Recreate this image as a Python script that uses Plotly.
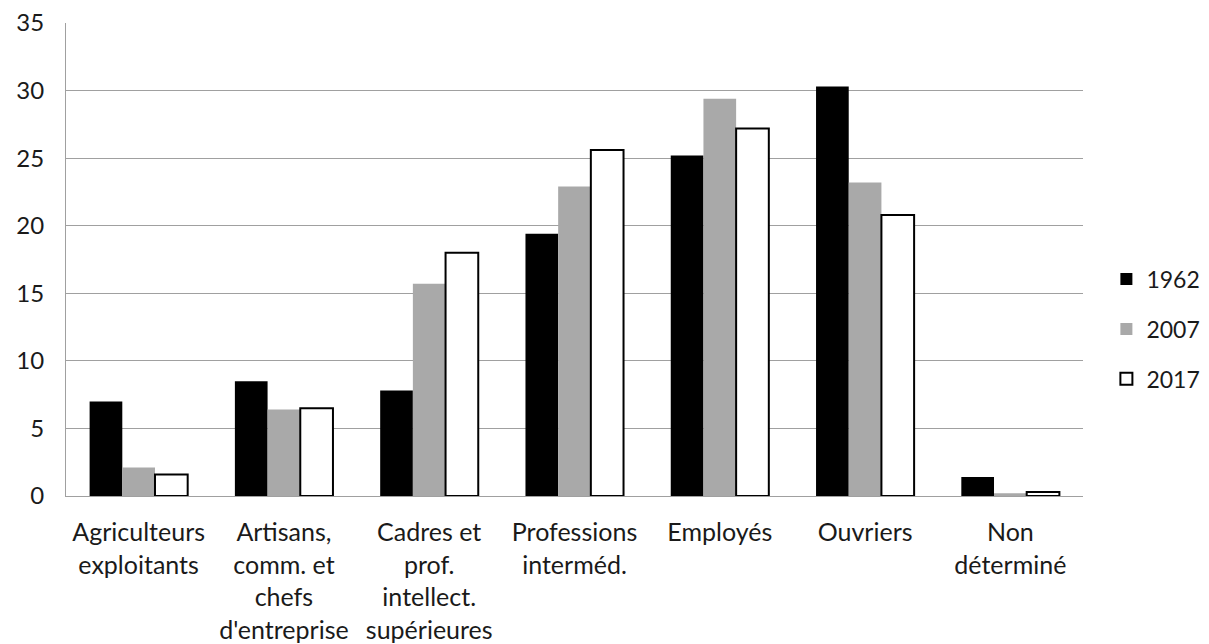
import plotly.graph_objects as go

categories = ["Agriculteurs<br>exploitants", "Artisans,<br>comm. et<br>chefs<br>d'entreprise",
              "Cadres et<br>prof.<br>intellect.<br>supérieures", "Professions<br>interméd.",
              "Employés", "Ouvriers", "Non<br>déterminé"]
v1962 = [7.0, 8.5, 7.8, 19.4, 25.2, 30.3, 1.4]
v2007 = [2.1, 6.4, 15.7, 22.9, 29.4, 23.2, 0.2]
v2017 = [1.6, 6.5, 18.0, 25.6, 27.2, 20.8, 0.3]

fig = go.Figure()
fig.add_trace(go.Bar(x=categories, y=v1962, name="1962", legendgroup="a",
                     marker=dict(color="#000000", line=dict(width=0))))
fig.add_trace(go.Bar(x=categories, y=v2007, name="2007", legendgroup="b",
                     marker=dict(color="#a9a9a9", line=dict(width=0))))
fig.add_trace(go.Bar(x=categories, y=v2017, name="2017", legendgroup="c",
                     marker=dict(color="#ffffff", line=dict(width=2, color="#000000"))))

fig.update_layout(
    width=1209, height=644,
    paper_bgcolor="white", plot_bgcolor="white",
    margin=dict(l=58, r=121, t=15, b=156),
    barmode="group", bargap=0.325, bargroupgap=0,
    font=dict(family="Lato", size=25, color="#1a1a1a"),
    legend=dict(x=1.023, xanchor="left", y=0.353, yanchor="middle",
                traceorder="grouped", tracegroupgap=17,
                font=dict(size=23), itemwidth=30),
    xaxis=dict(showline=True, linecolor="#a0a0a0", linewidth=1, ticks="",
               tickfont=dict(size=25), automargin=False, ticklabelstandoff=14),
    yaxis=dict(range=[0, 35], dtick=5, showgrid=True, gridcolor="#a0a0a0", gridwidth=1,
               showline=True, linecolor="#a0a0a0", linewidth=1, ticks="",
               zeroline=False, tickfont=dict(size=24), ticklabelstandoff=16,
               automargin=False, ticklabeloverflow="allow"),
)
fig.write_html("out.html")
